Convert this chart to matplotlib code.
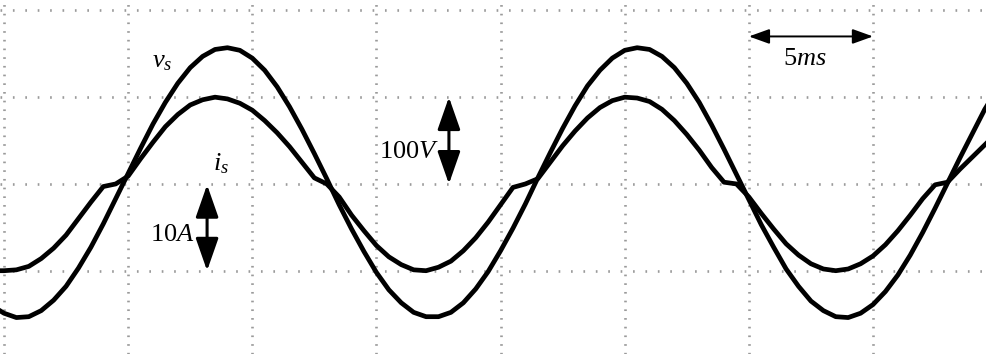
import numpy as np
import matplotlib
matplotlib.use('Agg')
import matplotlib.pyplot as plt
from matplotlib.patches import FancyArrowPatch

plt.rcParams['lines.scale_dashes'] = False
plt.rcParams['mathtext.fontset'] = 'custom'
plt.rcParams['mathtext.rm'] = 'Liberation Serif'
plt.rcParams['mathtext.it'] = 'Liberation Serif:italic'

# sample times (ms), one sample every 0.5 ms
t_ms = np.arange(-0.5, 40.01, 0.5)

# supply voltage (V)
v_s = [-140, -149, -154, -153, -146, -134, -118, -97, -73, -46,
       -17, 12, 41, 69, 94, 116, 134, 147, 155, 157,
       154, 145, 131, 112, 89, 63, 35, 6, -24, -52,
       -78, -102, -122, -137, -148, -153, -153, -148, -137, -121,
       -101, -77, -51, -23, 7, 36, 64, 90, 113, 131,
       145, 154, 157, 155, 147, 134, 116, 94, 68, 40,
       11, -18, -47, -73, -98, -118, -135, -146, -153, -154,
       -149, -139, -124, -105, -82, -56, -28, 1, 30, 58,
       86, 109]

# supply current (A)
i_s = [-10.0, -10.0, -9.9, -9.5, -8.6, -7.4, -5.9, -4.0, -2.1, -0.3,
       0.0, 0.9, 2.9, 4.8, 6.6, 8.0, 9.1, 9.7, 10.0, 9.8,
       9.3, 8.5, 7.3, 5.9, 4.3, 2.5, 0.7, 0.0, -1.5, -3.6,
       -5.4, -7.1, -8.4, -9.3, -9.9, -10.0, -9.6, -8.9, -7.7, -6.2,
       -4.4, -2.4, -0.4, 0.0, 0.6, 2.5, 4.4, 6.1, 7.6, 8.8,
       9.6, 10.0, 9.9, 9.5, 8.6, 7.3, 5.7, 3.9, 1.9, 0.2,
       0.0, -1.5, -3.4, -5.2, -6.9, -8.2, -9.2, -9.8, -10.0, -9.8,
       -9.2, -8.3, -7.0, -5.4, -3.6, -1.7, -0.1, 0.2, 1.7, 3.1,
       4.5, 5.9]

time_div = 5      # ms per division
volt_div = 100    # V per division
amp_div = 10      # A per division

fig = plt.figure(figsize=(9.86, 3.54), dpi=100)
ax = fig.add_axes([0, 0, 1, 1])

# scope graticule
ax.set_xticks(np.arange(0, 40, time_div))
ax.set_yticks(np.arange(-200, 201, volt_div))
ax.set_xlim(-0.16, 39.55)
ax.set_ylim(-196, 212)
ax.xaxis.grid(True, color='#9a9a9a', linewidth=1.9, linestyle=(0, (1.2, 5.06)))
ax.yaxis.grid(True, color='#9a9a9a', linewidth=1.9, linestyle=(0, (1.2, 7.73)))
ax.tick_params(length=0, labelbottom=False, labelleft=False)
for s in ax.spines.values():
    s.set_visible(False)

ax.plot(t_ms, v_s, color='black', lw=3.4, solid_joinstyle='round')

# current trace on its own scale (10 A/div)
ax2 = ax.twinx()
ax2.set_ylim(-196 / volt_div * amp_div, 212 / volt_div * amp_div)
ax2.plot(t_ms, i_s, color='black', lw=3.4, solid_joinstyle='round')
ax2.set_yticks([])
ax2.tick_params(length=0, labelright=False)
for s in ax2.spines.values():
    s.set_visible(False)

font = dict(fontfamily='Liberation Serif', fontsize=19, color='black')
ax.text(5.96, 134, r'$v_s$', ha='left', va='baseline', **font)
ax.text(8.42, 16, r'$i_s$', ha='left', va='baseline', **font)
ax.text(5.88, -66, r'10$A$', ha='left', va='baseline', **font)
ax.text(15.10, 30, r'100$V$', ha='left', va='baseline', **font)
ax.text(31.37, 137, r'5$ms$', ha='left', va='baseline', **font)

# scale arrows
big = '<|-|>,head_length=20,head_width=7'
ax.add_patch(FancyArrowPatch((8.18, -1), (8.18, -100), arrowstyle=big,
                             mutation_scale=1, lw=2.2, color='black',
                             shrinkA=0, shrinkB=0))
ax.add_patch(FancyArrowPatch((17.92, 100), (17.92, 0), arrowstyle=big,
                             mutation_scale=1, lw=2.2, color='black',
                             shrinkA=0, shrinkB=0))
ax.add_patch(FancyArrowPatch((30.0, 170), (35.0, 170),
                             arrowstyle='<|-|>,head_length=12.5,head_width=4.5',
                             mutation_scale=1, lw=1.4, color='black',
                             shrinkA=0, shrinkB=0))

fig.savefig('out.png', dpi=100)
